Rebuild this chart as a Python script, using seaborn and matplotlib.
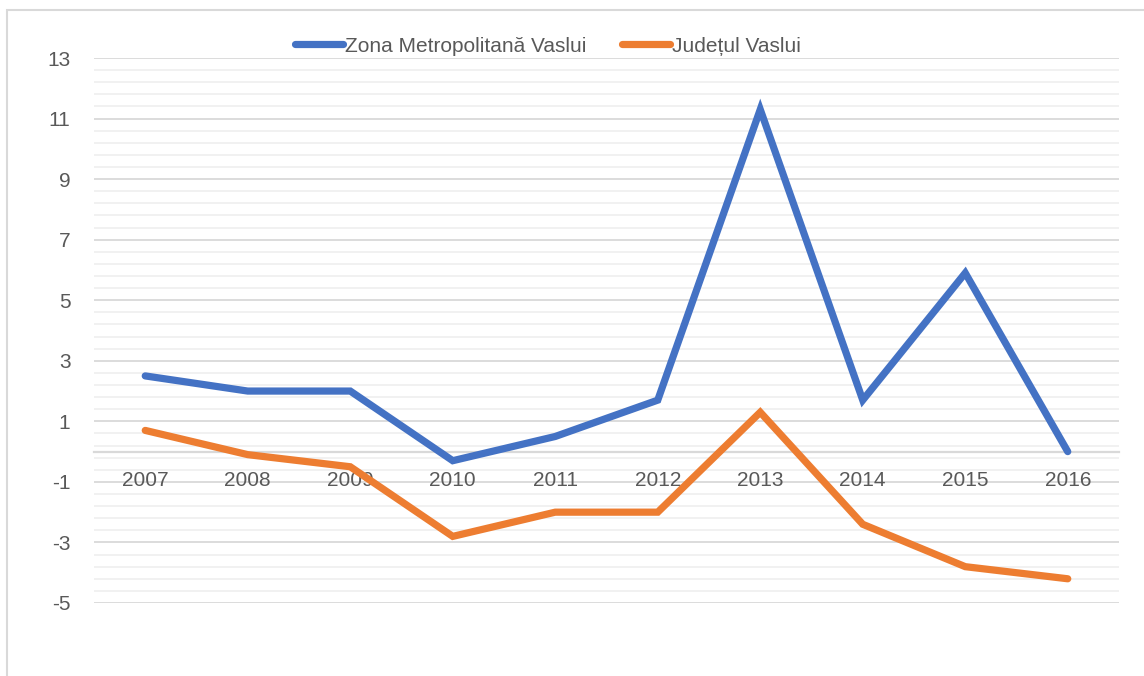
import matplotlib
matplotlib.use("Agg")
import matplotlib.pyplot as plt
import matplotlib.patches as mpatches
from matplotlib.ticker import MultipleLocator, FixedLocator
import seaborn as sns
import pandas as pd

years = ["2007", "2008", "2009", "2010", "2011", "2012", "2013", "2014", "2015", "2016"]
zona_metropolitana = [2.5, 2.0, 2.0, -0.3, 0.5, 1.7, 11.3, 1.7, 5.9, 0.0]
judetul = [0.7, -0.1, -0.5, -2.8, -2.0, -2.0, 1.3, -2.4, -3.8, -4.2]
series_names = ["Zona Metropolitană Vaslui", "Județul Vaslui"]
colors = ["#4472C4", "#ED7D31"]
y_ticks = [-5, -3, -1, 1, 3, 5, 7, 9, 11, 13]

sns.set_theme(style="white")
plt.rcParams["font.family"] = ["Liberation Sans", "DejaVu Sans"]

df = pd.DataFrame({
    "x": list(range(len(years))) * 2,
    "value": zona_metropolitana + judetul,
    "series": [series_names[0]] * len(years) + [series_names[1]] * len(years),
})

fig = plt.figure(figsize=(11.44, 6.76), dpi=100)
W, H = 1144, 676
ax = fig.add_axes([94 / W, 1 - 603 / H, (1119 - 94) / W, (603 - 58) / H])

ax.set_ylim(-5, 13)
ax.set_xlim(-0.5, len(years) - 0.5)
ax.yaxis.set_major_locator(FixedLocator(y_ticks))
ax.yaxis.set_minor_locator(MultipleLocator(0.4, offset=0.2))
ax.grid(axis="y", which="major", color="#d9d9d9", lw=1.3, zorder=0)
ax.grid(axis="y", which="minor", color="#f0f0f0", lw=1.3, zorder=0)
ax.set_axisbelow(True)

sns.lineplot(data=df, x="x", y="value", hue="series", palette=colors,
             hue_order=series_names, lw=5.2, ax=ax, legend=True,
             solid_capstyle="round", solid_joinstyle="miter", zorder=3)

for s in ["top", "right", "left"]:
    ax.spines[s].set_visible(False)
ax.spines["bottom"].set_position(("data", 0))
ax.spines["bottom"].set_color("#d9d9d9")
ax.spines["bottom"].set_linewidth(1.6)
ax.spines["bottom"].set_zorder(1)
ax.xaxis.set_zorder(2)

ax.set_xticks(range(len(years)))
ax.set_xticklabels(years)
ax.tick_params(axis="x", length=0, pad=14, labelsize=15, labelcolor="#595959")
ax.tick_params(axis="y", which="both", length=0, pad=17, labelsize=15, labelcolor="#595959")
ax.set_yticklabels([str(t) for t in y_ticks])
ax.set_xlabel("")
ax.set_ylabel("")

handles, labels = ax.get_legend_handles_labels()
ax.legend_.remove()
leg = fig.legend(handles, labels, loc="center", bbox_to_anchor=(548 / W, 1 - 46 / H),
                 ncol=2, frameon=False, fontsize=15, handlelength=2.3,
                 handletextpad=0.1, columnspacing=1.7, labelcolor="#595959")
for h in leg.legend_handles:
    h.set_linewidth(5.2)
    h.set_solid_capstyle("round")

border = mpatches.Rectangle((7 / W, -0.05), 1.0, (H - 10) / H + 0.05, transform=fig.transFigure,
                            fill=False, edgecolor="#d9d9d9", lw=1.5)
fig.patches.append(border)

fig.savefig("out.png", dpi=100)
